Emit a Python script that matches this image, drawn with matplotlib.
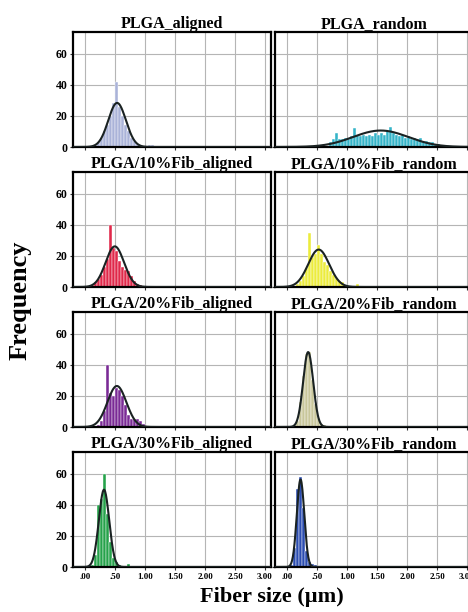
import numpy as np
import matplotlib
matplotlib.use("Agg")
import matplotlib.pyplot as plt

plt.rcParams["font.family"] = ["Liberation Serif", "DejaVu Serif"]
plt.rcParams["font.weight"] = "bold"

# histogram bins (bin centres, width 0.05 um) and counts
bin_width = 0.05

plga_al_x = [0.175, 0.225, 0.275, 0.325, 0.375, 0.425, 0.475, 0.525, 0.575, 0.625,
             0.675, 0.725, 0.775, 0.825, 0.875, 0.925, 1.075, 1.125]
plga_al_n = [1, 3, 6, 10, 14, 20, 28, 42, 26, 20, 14, 10, 6, 4, 2, 1, 1, 1]

plga_rd_x = [0.725, 0.775, 0.825, 0.875, 0.925, 0.975, 1.025, 1.075, 1.125, 1.175,
             1.225, 1.275, 1.325, 1.375, 1.425, 1.475, 1.525, 1.575, 1.625, 1.675,
             1.725, 1.775, 1.825, 1.875, 1.925, 1.975, 2.025, 2.075, 2.125, 2.175,
             2.225, 2.275, 2.325, 2.375, 2.425, 2.475, 2.525, 2.575]
plga_rd_n = [3, 5, 9, 5, 5, 6, 5, 7, 12, 8,
             7, 8, 7, 8, 7, 9, 8, 9, 8, 10,
             13, 9, 8, 7, 8, 6, 7, 5, 6, 5,
             6, 4, 4, 3, 3, 2, 2, 1]

fib10_al_x = [0.125, 0.175, 0.225, 0.275, 0.325, 0.375, 0.425, 0.475, 0.525, 0.575,
              0.625, 0.675, 0.725, 0.775, 0.825, 0.875, 0.925]
fib10_al_n = [1, 3, 5, 8, 13, 18, 40, 25, 23, 17, 13, 11, 10, 7, 4, 2, 1]

fib10_rd_x = [0.175, 0.225, 0.275, 0.325, 0.375, 0.425, 0.475, 0.525, 0.575, 0.625,
              0.675, 0.725, 0.775, 0.825, 0.875, 0.925, 0.975, 1.175]
fib10_rd_n = [2, 4, 7, 12, 35, 19, 21, 27, 21, 16, 14, 10, 8, 6, 4, 3, 1, 2]

fib20_al_x = [0.225, 0.275, 0.325, 0.375, 0.425, 0.475, 0.525, 0.575, 0.625, 0.675,
              0.725, 0.775, 0.825, 0.875, 0.925, 0.975]
fib20_al_n = [1, 4, 10, 40, 22, 20, 25, 24, 20, 14, 8, 5, 5, 5, 4, 2]

fib20_rd_x = [0.125, 0.175, 0.225, 0.275, 0.325, 0.375, 0.425, 0.475, 0.525, 0.575, 0.625]
fib20_rd_n = [1, 4, 16, 33, 47, 48, 30, 15, 6, 2, 1]

fib30_al_x = [0.125, 0.175, 0.225, 0.275, 0.325, 0.375, 0.425, 0.475, 0.525, 0.575, 0.725]
fib30_al_n = [1, 8, 40, 44, 60, 34, 16, 6, 3, 1, 2]

fib30_rd_x = [0.075, 0.125, 0.175, 0.225, 0.275, 0.325, 0.375, 0.425, 0.475]
fib30_rd_n = [1, 12, 50, 58, 38, 10, 3, 2, 1]

titles = ["PLGA_aligned", "PLGA_random",
          "PLGA/10%Fib_aligned", "PLGA/10%Fib_random",
          "PLGA/20%Fib_aligned", "PLGA/20%Fib_random",
          "PLGA/30%Fib_aligned", "PLGA/30%Fib_random"]
bins = [plga_al_x, plga_rd_x, fib10_al_x, fib10_rd_x,
        fib20_al_x, fib20_rd_x, fib30_al_x, fib30_rd_x]
counts = [plga_al_n, plga_rd_n, fib10_al_n, fib10_rd_n,
          fib20_al_n, fib20_rd_n, fib30_al_n, fib30_rd_n]
colors = ["#aab3d8", "#35b4c8", "#e0284a", "#ecec3c",
          "#7a2a95", "#c8c69a", "#25a24a", "#2a4cb0"]

x_ticks = [0, 0.5, 1.0, 1.5, 2.0, 2.5, 3.0]
x_labels = [".00", ".50", "1.00", "1.50", "2.00", "2.50", "3.00"]
y_ticks = [0, 20, 40, 60]

fig = plt.figure(figsize=(4.68, 6.12), dpi=100)

W, H = 468.0, 612.0
col_left = [73, 275]
panel_w = 198
row_top = [32, 172, 312, 452]
panel_h = 115

xs = np.linspace(-0.2, 3.1, 500)

for i in range(8):
    r, c = divmod(i, 2)
    ax = fig.add_axes([col_left[c] / W, 1 - (row_top[r] + panel_h) / H,
                       panel_w / W, panel_h / H])
    cx = np.array(bins[i])
    n = np.array(counts[i], dtype=float)
    ax.bar(cx, n, width=bin_width, color=colors[i], edgecolor="white",
           linewidth=0.3, zorder=2)
    # normal curve fitted to the binned data
    mu = np.average(cx, weights=n)
    sd = np.sqrt(np.average((cx - mu) ** 2, weights=n))
    ys = n.sum() * bin_width * np.exp(-0.5 * ((xs - mu) / sd) ** 2) / (sd * np.sqrt(2 * np.pi))
    ax.plot(xs, ys, color="#1a2222", lw=1.5, zorder=3)

    ax.set_xlim(-0.2, 3.1)
    ax.set_ylim(0, 74)
    ax.set_xticks(x_ticks)
    ax.set_yticks(y_ticks)
    ax.grid(True, color="#b5b5b5", lw=0.8, zorder=0)
    ax.set_axisbelow(True)
    for s in ax.spines.values():
        s.set_linewidth(1.6)
        s.set_color("black")
    ax.tick_params(length=2.5, width=0.8, colors="#333333", labelcolor="black",
                   pad=1.5)
    if r == 3:
        ax.set_xticklabels(x_labels, fontsize=6.5, fontweight="bold")
    else:
        ax.set_xticklabels([])
    if c == 0:
        ax.set_yticklabels([str(v) for v in y_ticks], fontsize=8.5, fontweight="bold")
    else:
        ax.set_yticklabels([])
    ax.set_title(titles[i], fontsize=11.5, fontweight="bold", pad=2)

fig.text(20 / W, 1 - 300 / H, "Frequency", rotation=90, ha="center", va="center",
         fontsize=19, fontweight="bold")
fig.text(272 / W, 1 - 597 / H, "Fiber size (\u00b5m)", ha="center", va="center",
         fontsize=16, fontweight="bold")

fig.savefig("out.png", dpi=100, facecolor="white")
